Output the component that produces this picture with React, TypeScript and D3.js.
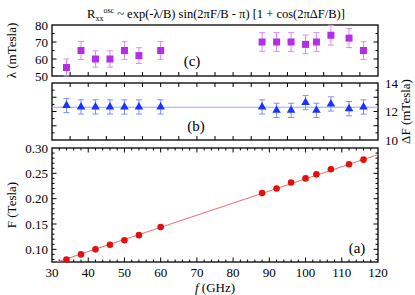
import React, { useRef, useEffect } from 'react';
import * as d3 from 'd3';

// frequencies (GHz)
const freqs = [34, 38, 42, 46, 50, 54, 60, 88, 92, 96, 100, 103, 107, 112, 116];
// panel (a): F (Tesla)
const fVals = [0.080, 0.090, 0.100, 0.109, 0.118, 0.128, 0.144, 0.211, 0.220, 0.232, 0.240, 0.248, 0.258, 0.268, 0.277];
const fitLine = [[31.4, 0.075], [120, 0.287]];
// panel (b): deltaF (mTesla)
const dfVals = [12.42, 12.32, 12.32, 12.32, 12.32, 12.32, 12.32, 12.32, 12.08, 12.08, 12.63, 12.08, 12.53, 12.2, 12.32];
const dfErr = [0.5, 0.5, 0.5, 0.5, 0.5, 0.5, 0.5, 0.5, 0.5, 0.5, 0.5, 0.5, 0.5, 0.5, 0.5];
const dfMean = 12.3;
// panel (c): lambda (mTesla)
const lamVals = [55, 65, 60, 60, 65, 62, 65, 70, 70, 70, 68.6, 70, 74, 72.3, 65];
const lamErr = [5, 5.3, 4.8, 4.8, 5.2, 4.6, 5.2, 5.5, 5.5, 5.5, 5.5, 5.5, 5.8, 5.6, 5.2];

const xTicks = [30, 40, 50, 60, 70, 80, 90, 100, 110, 120];

const FONT = 'Liberation Serif, DejaVu Serif, serif';

export default function App() {
  const ref = useRef<SVGSVGElement>(null);

  useEffect(() => {
    const svg = d3.select(ref.current);
    svg.selectAll('*').remove();

    const left = 52, right = 378;
    const x = d3.scaleLinear().domain([30, 120]).range([left, right]);
    const yC = d3.scaleLinear().domain([50, 80]).range([76, 25]);
    const yB = d3.scaleLinear().domain([10, 14]).range([140, 83]);
    const yA = d3.scaleLinear().domain([0.075, 0.30]).range([262, 148]);

    const txt = (tx: number, ty: number, s: string | number, size = 13, anchor = 'middle') =>
      svg.append('text').attr('x', tx).attr('y', ty).attr('text-anchor', anchor)
        .style('font-family', FONT).style('font-size', size + 'px').text(s);

    const frame = (y: d3.ScaleLinear<number, number>) => {
      const [b, t] = y.range();
      svg.append('rect').attr('x', left).attr('y', t).attr('width', right - left).attr('height', b - t)
        .attr('fill', 'none').attr('stroke', '#000').attr('stroke-width', 1.3);
    };

    const tickLine = (x1: number, y1: number, x2: number, y2: number, w = 1) =>
      svg.append('line').attr('x1', x1).attr('y1', y1).attr('x2', x2).attr('y2', y2)
        .attr('stroke', '#000').attr('stroke-width', w);

    // y ticks both sides
    const yTicks = (y: d3.ScaleLinear<number, number>, minor: number[], major: number[]) => {
      minor.forEach(v => { tickLine(left, y(v), left + 2.5, y(v)); tickLine(right, y(v), right - 2.5, y(v)); });
      major.forEach(v => { tickLine(left, y(v), left + 4.5, y(v)); tickLine(right, y(v), right - 4.5, y(v)); });
    };

    // panel (c)
    frame(yC);
    yTicks(yC, d3.range(55, 80, 10), [60, 70]);
    d3.range(35, 120, 5).forEach(v => tickLine(x(v), 76, x(v), 72));
    [50, 60, 70, 80].forEach(v => txt(left - 4, yC(v) + 4.5, v, 13, 'end'));

    // panel (b)
    frame(yB);
    yTicks(yB, d3.range(10.5, 14, 1), [11, 12, 13]);
    d3.range(35, 120, 5).forEach(v => { tickLine(x(v), 83, x(v), 87); tickLine(x(v), 140, x(v), 136); });
    [10, 12, 14].forEach(v => txt(right + 7, yB(v) + 4.5, v, 13, 'start'));

    // panel (a)
    frame(yA);
    yTicks(yA, d3.range(0.08, 0.30, 0.01).filter(v => Math.abs(v * 20 - Math.round(v * 20)) > 0.01), [0.10, 0.15, 0.20, 0.25]);
    d3.range(32, 120, 2).forEach(v => {
      const big = v % 10 === 0;
      tickLine(x(v), 148, x(v), 148 + (big ? 4.5 : 2.5));
      tickLine(x(v), 262, x(v), 262 - (big ? 4.5 : 2.5));
    });
    [0.10, 0.15, 0.20, 0.25, 0.30].forEach(v => txt(left - 4, yA(v) + 4.5, v.toFixed(2), 13, 'end'));
    xTicks.forEach(v => txt(x(v), 277, v));

    // error bars helper
    const errBars = (y: d3.ScaleLinear<number, number>, vals: number[], errs: number[], color: string) => {
      const g = svg.append('g').attr('stroke', color).attr('stroke-width', 1);
      freqs.forEach((f, i) => {
        const cx = x(f), lo = y(vals[i] - errs[i]), hi = y(vals[i] + errs[i]);
        g.append('line').attr('x1', cx).attr('x2', cx).attr('y1', lo).attr('y2', hi);
        g.append('line').attr('x1', cx - 3).attr('x2', cx + 3).attr('y1', lo).attr('y2', lo);
        g.append('line').attr('x1', cx - 3).attr('x2', cx + 3).attr('y1', hi).attr('y2', hi);
      });
    };

    // (c) data
    errBars(yC, lamVals, lamErr, '#d98cf2');
    svg.append('g').selectAll('rect').data(freqs).join('rect')
      .attr('x', (f) => x(f) - 3.5).attr('y', (_, i) => yC(lamVals[i]) - 3.5)
      .attr('width', 7).attr('height', 7).attr('fill', '#b42ee6');

    // (b) data
    svg.append('line').attr('x1', left).attr('x2', right).attr('y1', yB(dfMean)).attr('y2', yB(dfMean))
      .attr('stroke', '#8fa8ff').attr('stroke-width', 1);
    errBars(yB, dfVals, dfErr, '#7f8cff');
    const tri = d3.symbol().type(d3.symbolTriangle).size(32);
    svg.append('g').selectAll('path').data(freqs).join('path')
      .attr('d', tri)
      .attr('transform', (f, i) => `translate(${x(f)},${yB(dfVals[i])})`)
      .attr('fill', '#1a33ff');

    // (a) data
    const line = d3.line<number[]>().x(d => x(d[0])).y(d => yA(d[1]));
    svg.append('path').attr('d', line(fitLine)).attr('stroke', '#f06a6a').attr('fill', 'none').attr('stroke-width', 1);
    svg.append('g').selectAll('circle').data(freqs).join('circle')
      .attr('cx', f => x(f)).attr('cy', (_, i) => yA(fVals[i])).attr('r', 3.3).attr('fill', '#e01010');

    // panel labels
    txt(192, 66, '(c)', 15);
    txt(196, 131, '(b)', 15);
    txt(357, 253, '(a)', 15);

    // axis titles
    txt(0, 0, 'λ (mTesla)').attr('transform', `translate(16,${(25 + 76) / 2}) rotate(-90)`);
    txt(0, 0, 'F (Tesla)').attr('transform', `translate(16,205) rotate(-90)`);
    txt(0, 0, 'ΔF (mTesla)').attr('transform', `translate(410,${(83 + 140) / 2}) rotate(-90)`);
    const xl = txt(215, 292, '');
    xl.append('tspan').attr('font-style', 'italic').text('f');
    xl.append('tspan').text(' (GHz)');

    // title
    const t = txt(216, 18, '', 12.5);
    t.append('tspan').text('R');
    t.append('tspan').style('font-size', '8px').attr('dy', 3).text('xx');
    t.append('tspan').style('font-size', '8px').attr('dy', -8).text('osc');
    t.append('tspan').attr('dy', 5).text(' ~ exp(-λ/B) sin(2πF/B - π) [1 + cos(2πΔF/B)]');
  }, []);

  return (
    <svg ref={ref} width={415} height={295}
      style={{ position: 'absolute', left: 0, top: 0, background: '#fff' }} />
  );
}
